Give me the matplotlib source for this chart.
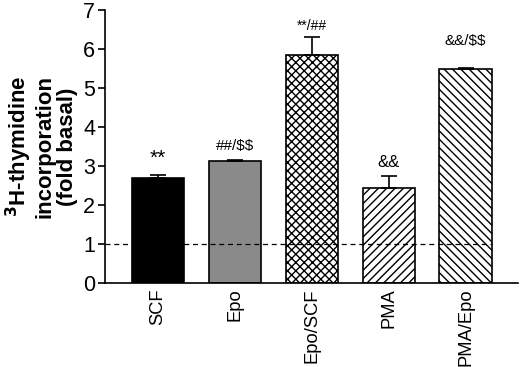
import matplotlib
matplotlib.use("Agg")
import matplotlib.pyplot as plt
import numpy as np

plt.rcParams["font.family"] = ["Liberation Sans", "DejaVu Sans"]
plt.rcParams["hatch.linewidth"] = 1.0

categories = ["SCF", "Epo", "Epo/SCF", "PMA", "PMA/Epo"]
values = [2.69, 3.13, 5.85, 2.44, 5.49]
errors = [0.08, 0.03, 0.45, 0.30, 0.02]
labels = ["**", "##/$$", "**/##", "&&", "&&/$$"]
label_y = [3.2, 3.5, 6.6, 3.1, 6.2]
label_size = [15, 11, 10, 12, 11]

colors = ["black", "#8a8a8a", "white", "white", "white"]
hatches = [None, None, "xxxx", "////", "\\\\\\\\"]

fig = plt.figure(figsize=(5.2, 3.67), dpi=100)
ax = fig.add_axes([0.202, 0.229, 0.794, 0.744])

x = np.arange(len(categories))
for i in range(len(categories)):
    ax.bar(x[i], values[i], width=0.68, color=colors[i], edgecolor="black",
           linewidth=1.2, hatch=hatches[i], zorder=2)
    ax.errorbar(x[i], values[i], yerr=[[0], [errors[i]]], color="black",
                capsize=6, elinewidth=1.2, capthick=1.2, zorder=3)
    ax.text(x[i], label_y[i], labels[i], ha="center", va="center",
            fontsize=label_size[i], parse_math=False)

ax.plot([-0.69, x[-1] + 0.34], [1, 1], "k--", linewidth=0.9,
        dashes=(4, 3), zorder=4)

ax.set_xlim(-0.69, 4.68)
ax.set_ylim(0, 7)
ax.set_yticks(range(0, 8))
ax.tick_params(axis="y", labelsize=15.5, width=1.2, length=5, pad=2)
ax.set_xticks(x)
ax.set_xticklabels(categories, rotation=90, fontsize=13.2)
ax.tick_params(axis="x", length=0, pad=4)
ax.spines["top"].set_visible(False)
ax.spines["right"].set_visible(False)
ax.spines["left"].set_linewidth(1.2)
ax.spines["bottom"].set_linewidth(1.2)

ax.set_ylabel("$^{\\mathbf{3}}$H-thymidine\nincorporation\n(fold basal)",
              fontsize=16, fontweight="bold", labelpad=4, linespacing=1.05)

fig.savefig("out.png", dpi=100)
